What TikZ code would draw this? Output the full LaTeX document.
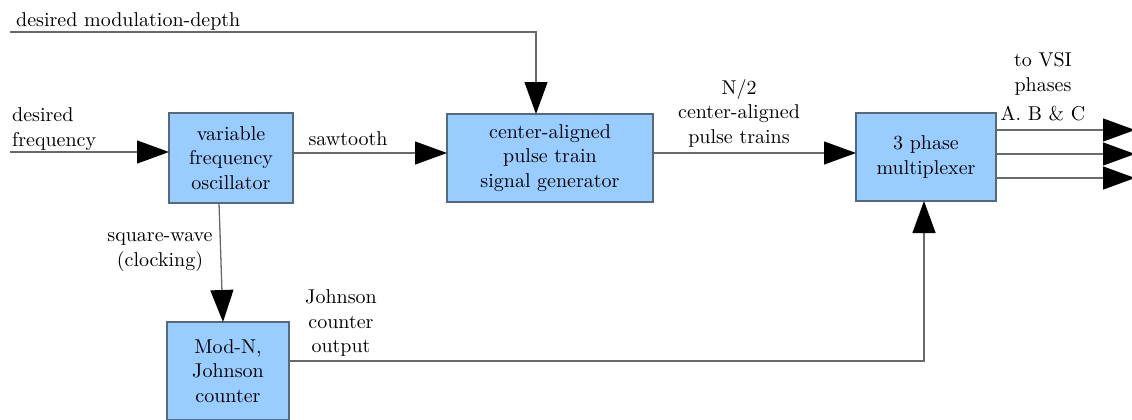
\documentclass[tikz,border=0pt]{standalone}
\usepackage{fontspec}
\setmainfont{lmroman10-regular}[Extension=.otf]
\usetikzlibrary{arrows.meta}
\definecolor{boxfill}{RGB}{153,204,255}
\definecolor{boxline}{RGB}{85,105,125}
\definecolor{wire}{RGB}{105,105,105}
\tikzstyle{box} = [rectangle, inner sep=0pt, outer sep=0pt, align=center, draw=boxline, line width=1.5pt, fill=boxfill]
\tikzstyle{arrow} = [draw=wire, line width=1.3pt, -{Triangle[length=32pt,width=23pt,black]}]
\tikzstyle{lbl} = [inner sep=0pt, align=center]

\begin{document}
\begin{tikzpicture}[x=1pt, y=-1pt, font=\fontsize{20}{24.5}\selectfont]
    \useasboundingbox (0,0) rectangle (1132,420);

        % Nodes
        \node (vfo) [box, minimum width=124pt, minimum height=90pt] at (231,158) {variable\\frequency\\oscillator};
        \node (pulse) [box, minimum width=206pt, minimum height=88pt] at (550,158) {center-aligned\\pulse train\\signal generator};
        \node (mux) [box, minimum width=140pt, minimum height=88pt] at (926,157) {3 phase\\multiplexer};
        \node (modn) [box, minimum width=122pt, minimum height=98pt] at (228,371) {Mod-N,\\Johnson\\counter};

        % Free ends
        \coordinate (depthIn) at (10,32);
        \coordinate (freqIn) at (10,152);
        \coordinate (outA) at (1135,130);
        \coordinate (outB) at (1135,154);
        \coordinate (outC) at (1135,178);

        % Labels
        \node (depthLbl) [lbl, anchor=west] at (16,22) {desired modulation-depth};
        \node (freqLbl) [lbl, anchor=west, align=left] at (12,129) {desired\\frequency};
        \node (sawLbl) [lbl] at (348,139) {sawtooth};
        \node (sqLbl) [lbl] at (160,252) {square-wave\\(clocking)};
        \node (johnLbl) [lbl] at (341,323) {Johnson\\counter\\output};
        \node (trainLbl) [lbl] at (739,113) {N/2\\center-aligned\\pulse trains};
        \node (vsiLbl) [lbl] at (1043,87) {to VSI\\phases\\[5pt]A. B \& C};

        % Arrows
        \draw [arrow] (depthIn) -| ([xshift=-14pt]pulse.north);
        \draw [arrow] (freqIn) -- (freqIn -| vfo.west);
        \draw [arrow] ([yshift=5pt]vfo.east) -- ([yshift=5pt]vfo.east -| pulse.west);
        \draw [arrow] ([yshift=5pt]pulse.east) -- ([yshift=5pt]pulse.east -| mux.west);
        \draw [arrow] ([xshift=-12pt]vfo.south) -- ([xshift=-5pt]modn.north);
        \draw [arrow] ([yshift=10pt]modn.east) -| ([xshift=-2pt]mux.south);
        \foreach \ph in {A,B,C}
            \draw [arrow] (mux.east |- out\ph) -- (out\ph);

        \end{tikzpicture}
\end{document}
